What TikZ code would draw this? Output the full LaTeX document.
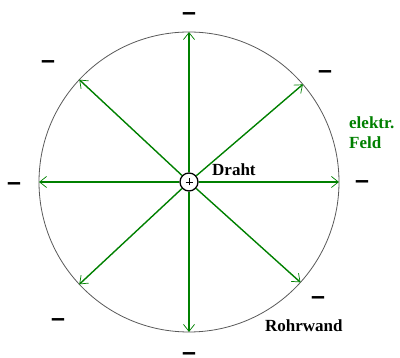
\documentclass[tikz,border=0pt]{standalone}
\usepackage{fontspec}
\setmainfont{Liberation Serif}
\newfontfamily\dashfont{Liberation Sans}
\usetikzlibrary{arrows.meta,calc}
\definecolor{fgreen}{RGB}{0,128,0}
\begin{document}
\begin{tikzpicture}[x=1pt,y=1pt,
  field/.style={draw=fgreen,line width=1.4pt,-{Straight Barb[length=7pt,width=11pt,line width=0.7pt]}},
  minus/.style={font=\dashfont\bfseries\fontsize{25}{25}\selectfont,inner sep=0pt,text height=12.5pt,text depth=-9.5pt},
  lbl/.style={font=\bfseries\fontsize{17}{20}\selectfont,inner sep=0pt}]
\useasboundingbox (0,0) rectangle (400,358);
\coordinate (c) at (189,176);
\draw[line width=0.8pt,black!65] (c) circle (150);
\node[draw=black,line width=1.3pt,circle,minimum size=18pt,inner sep=0pt,fill=white] (w) at (c) {};
\draw[line width=0.6pt] ($(c)+(-3.5,0)$) -- ($(c)+(3.5,0)$) ($(c)+(0,-3.5)$) -- ($(c)+(0,3.5)$);
\foreach \a/\n in {90/t,0/r,180/l,270/b,40.6/tr,137/tl,223/bl,318/br}{
  \coordinate (p\n) at ($(c)+(\a:150)$);
}
\foreach \n in {t,r,l,b,tr,tl,bl,br}{
  \draw[field] (w) -- (p\n);
}
\node[minus] (m1) at (189,344) {–};
\node[minus] (m2) at (325,286) {–};
\node[minus] (m3) at (362,176) {–};
\node[minus] (m4) at (318,60) {–};
\node[minus] (m5) at (189,3.5) {–};
\node[minus] (m6) at (58,38) {–};
\node[minus] (m7) at (14,174) {–};
\node[minus] (m8) at (48,296) {–};
\node[lbl,anchor=west] (d) at (212,188) {Draht};
\node[lbl,anchor=west,text=fgreen,align=left] (f) at (349,225) {elektr.\\Feld};
\node[lbl,anchor=west] (rw) at (265,32) {Rohrwand};
\end{tikzpicture}
\end{document}
